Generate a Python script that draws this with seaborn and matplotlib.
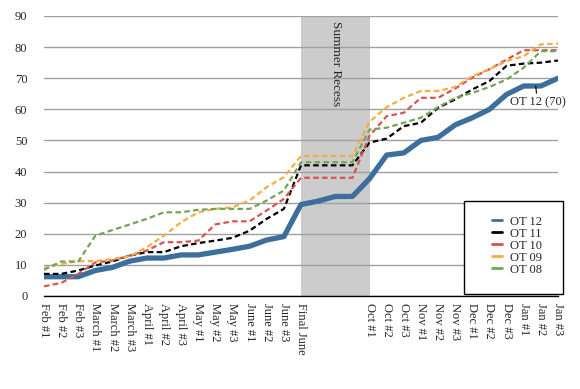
import pandas as pd
import seaborn as sns
import matplotlib.pyplot as plt
from matplotlib.lines import Line2D
from matplotlib.patches import Rectangle

labels = ['Feb #1', 'Feb #2', 'Feb #3', 'March #1', 'March #2', 'March #3',
          'April #1', 'April #2', 'April #3', 'May #1', 'May #2', 'May #3',
          'June #1', 'June #2', 'June #3', 'Final June', '', '', '',
          'Oct #1', 'Oct #2', 'Oct #3', 'Nov #1', 'Nov #2', 'Nov #3',
          'Dec #1', 'Dec #2', 'Dec #3', 'Jan #1', 'Jan #2', 'Jan #3']

ot12 = [6.2, 6.2, 6.2, 8.2, 9.2, 11.2, 12.2, 12.2, 13.2, 13.2, 14.1, 15, 16, 18, 19.1,
        29.4, 30.5, 32, 32, 37.7, 45.3, 46, 50, 51, 55, 57.3, 60, 64.8, 67.5, 67.5, 70]
ot11 = [7.1, 7.1, 8.2, 9.8, 11.1, 13, 14.1, 14.1, 16, 17, 17.8, 18.7, 21, 24.8, 28,
        42, 42, 42, 42, 49.3, 50.6, 54.6, 55.7, 60.5, 63.2, 66.4, 69.1, 74, 74.7, 75, 75.7]
ot10 = [3.1, 4.2, 7.1, 10.8, 11.4, 13, 14.6, 17.3, 17.3, 17.8, 23, 24, 24, 27.5, 31.2,
        38, 38, 38, 38, 51.5, 57.8, 58.9, 63.7, 63.7, 66.7, 70.2, 72.9, 76, 79, 79, 79]
ot09 = [9.0, 10.3, 11.2, 11.2, 11.9, 12.7, 15.7, 19.4, 23.7, 26.9, 28, 28.5, 30.7, 35, 38.2,
        45, 45, 45, 45, 56, 60.7, 63.7, 65.9, 65.9, 67.2, 70.7, 72.9, 75.5, 77.1, 80.9, 81.1]
ot08 = [8.4, 11.1, 11.1, 19.4, 21.2, 23, 24.8, 26.9, 26.9, 27.7, 28, 28, 28, 30.7, 33.9,
        43, 43, 43, 43, 53.5, 54.1, 55.7, 57.3, 60.7, 63.7, 65.3, 67.2, 69.6, 73.4, 78.7, 78.7]

series = ['OT 12', 'OT 11', 'OT 10', 'OT 09', 'OT 08']
values = [ot12, ot11, ot10, ot09, ot08]
colors = {'OT 12': '#3d6f9c', 'OT 11': '#000000', 'OT 10': '#d9534f',
          'OT 09': '#f5ac45', 'OT 08': '#72a555'}

rows = []
for name, vals in zip(series, values):
    for i, v in enumerate(vals):
        rows.append({'pos': i, 'value': v, 'series': name})
df = pd.DataFrame(rows)

sns.set_style('white')
plt.rcParams['font.family'] = ['Liberation Serif', 'DejaVu Serif']

fig = plt.figure(figsize=(5.8, 3.89), dpi=100)
ax = fig.add_axes([44 / 580, 93 / 389, 514 / 580, 280 / 389])

ax.axvspan(15, 19, color='#cccccc', zorder=0.3, lw=0)

sizes = {s: 1.6 for s in series}
sizes['OT 12'] = 3.8
dashes = {s: (2.5, 1.5) for s in series}
dashes['OT 12'] = ''
sns.lineplot(data=df, x='pos', y='value', hue='series', size='series', style='series',
             hue_order=series, palette=colors, sizes=sizes, dashes=dashes,
             errorbar=None, legend=False, ax=ax)

ax.set_xlim(0, 30)
ax.set_ylim(0, 90)
ax.set_yticks(range(0, 91, 10))
ax.set_xticks(range(len(labels)))
ax.set_xticklabels(labels, rotation=270, ha='center', va='top', fontsize=9)
ax.tick_params(axis='y', length=0, labelsize=9, pad=12)
ax.tick_params(axis='x', direction='inout', length=6, width=1, color='black', pad=2)
ax.yaxis.grid(True, color='#a0a0a0', lw=1)
ax.set_axisbelow(True)
ax.set_xlabel('')
ax.set_ylabel('')
for side in ['left', 'right', 'top']:
    ax.spines[side].set_visible(False)
ax.spines['bottom'].set_color('black')
ax.spines['bottom'].set_linewidth(1)

ax.text(17.05, 88.5, 'Summer Recess', rotation=270, ha='center', va='top', fontsize=9.5)

ax.annotate('OT 12 (70)', xy=(28.7, 67.5), xytext=(28.8, 62.2), ha='center', va='center',
            fontsize=9, arrowprops=dict(arrowstyle='-', color='black', lw=0.8, shrinkA=0, shrinkB=0))

box = Rectangle((0.817, 0.007), 0.193, 0.332, transform=ax.transAxes, facecolor='white',
                edgecolor='black', lw=1, clip_on=False, zorder=3)
ax.add_patch(box)
handles = [Line2D([0], [0], color=colors[s], lw=2) for s in series]
leg = ax.legend(handles, series, loc='center', bbox_to_anchor=(0.92, 0.18), frameon=False,
                fontsize=9, handlelength=0.8, handletextpad=0.7, labelspacing=0.0)
leg.set_zorder(4)

fig.savefig('out.png', dpi=100)
